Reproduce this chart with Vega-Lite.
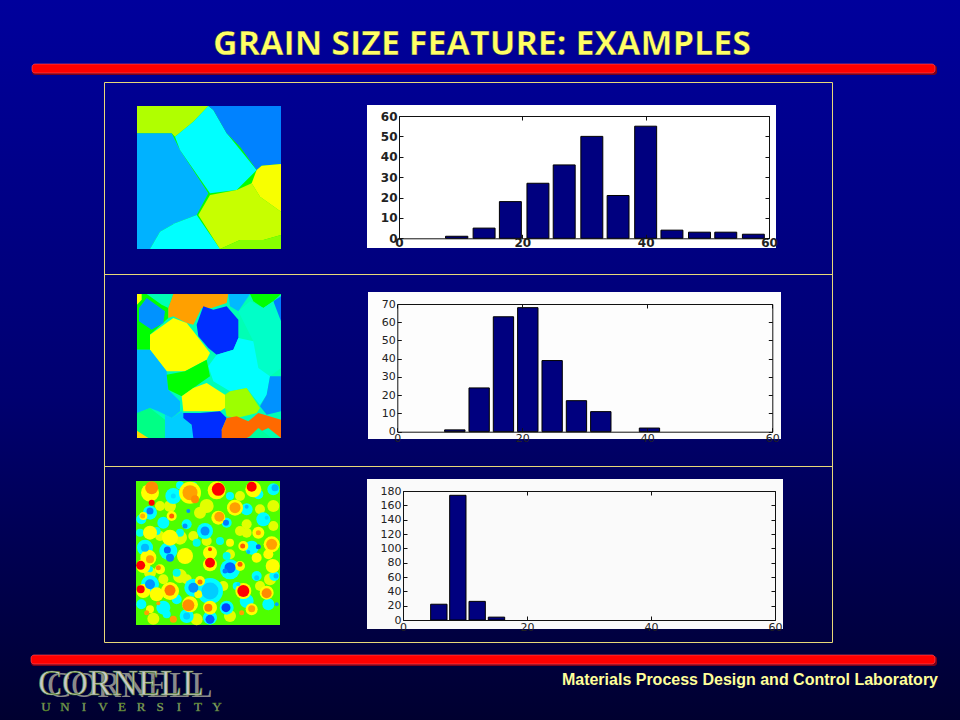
{
"$schema":"https://vega.github.io/schema/vega-lite/v6.json",
"width":960,"height":720,"padding":0,"autosize":{"type":"none"},
"background":"#00005c",
"view":{"stroke":null,"fill":{"gradient":"linear","x1":0,"y1":0,"x2":0,"y2":1,"stops":[{"offset":0,"color":"#00009c"},{"offset":0.55,"color":"#000070"},{"offset":1,"color":"#000030"}]}},
"config":{"axis":{"grid":false,"title":null,"domainColor":"#111111","tickColor":"#111111","labelColor":"#222222","labelFont":"DejaVu Sans","labelFontSize":11,"tickSize":-4,"labelPadding":6,"labelFlush":false,"labelOverlap":false},"text":{"align":"center","baseline":"alphabetic"}},
"resolve":{"scale":{"x":"independent","y":"independent"},"axis":{"x":"independent","y":"independent"}},
"datasets":{
"hist1":[{"start":7.55,"end":11.16,"count":1},{"start":12.02,"end":15.58,"count":5},{"start":16.28,"end":19.84,"count":18},{"start":20.75,"end":24.31,"count":27},{"start":25.01,"end":28.57,"count":36},{"start":29.49,"end":33.05,"count":50},{"start":33.75,"end":37.3,"count":21},{"start":38.22,"end":41.78,"count":55},{"start":42.48,"end":46.04,"count":4},{"start":46.95,"end":50.51,"count":3},{"start":51.21,"end":54.77,"count":3},{"start":55.69,"end":59.24,"count":2}],
"hist2":[{"start":7.57,"end":10.83,"count":1},{"start":11.47,"end":14.72,"count":24},{"start":15.36,"end":18.61,"count":63},{"start":19.25,"end":22.51,"count":68},{"start":23.15,"end":26.4,"count":39},{"start":27.04,"end":30.29,"count":17},{"start":30.93,"end":34.19,"count":11},{"start":38.72,"end":41.97,"count":2}],
"hist3":[{"start":4.46,"end":7.1,"count":22},{"start":7.53,"end":10.16,"count":174},{"start":10.65,"end":13.28,"count":26},{"start":13.76,"end":16.4,"count":4}],
"map1":[
{"g":0,"v":2,"x":[0,432,432,0],"y":[0,0,429,429]},
{"g":1,"v":2.5,"x":[0,214,169,114,104,0],"y":[0,0,47,92,82,82]},
{"g":2,"v":0.56,"x":[0,104,129,214,179,114,69,39,0],"y":[82,82,132,262,327,352,377,429,429]},
{"g":3,"v":1,"x":[114,169,214,229,269,359,299,219,129],"y":[92,47,0,12,82,192,252,262,132]},
{"g":4,"v":0.33,"x":[214,432,432,374,359,309,269,229],"y":[0,0,174,179,192,122,82,12]},
{"g":5,"v":1,"x":[39,69,114,179,249],"y":[429,377,352,327,429]},
{"g":6,"v":2.63,"x":[184,219,299,344,369,432,432,379,309,249],"y":[327,267,252,232,272,317,387,402,402,429]},
{"g":7,"v":2.95,"x":[359,374,432,432,369,344],"y":[192,179,174,317,272,232]},
{"g":8,"v":2.3,"x":[249,309,379,432,432],"y":[429,402,402,387,429]}],
"map2":[
{"g":0,"v":1.5,"x":[21,453,453,21],"y":[18,18,450,450]},
{"g":1,"v":2,"x":[21,130,115,115,60,60,21],"y":[18,18,60,90,140,185,185]},
{"g":2,"v":1.5,"x":[50,130,115,95],"y":[18,18,60,50]},
{"g":3,"v":3,"x":[21,35,35,21],"y":[18,18,35,50]},
{"g":4,"v":0.4,"x":[27,50,105,100,65,27],"y":[60,30,70,105,125,100]},
{"g":5,"v":3.5,"x":[130,295,290,245,215,190,170,130,115,115],"y":[18,18,45,60,60,110,105,85,90,60]},
{"g":6,"v":0.6,"x":[295,360,325,300],"y":[18,18,70,55]},
{"g":7,"v":2,"x":[360,453,430,400,370],"y":[18,18,40,60,40]},
{"g":8,"v":0.3,"x":[430,453,453,440],"y":[40,25,100,90]},
{"g":9,"v":1.4,"x":[325,360,400,430,453,453,420,380,370],"y":[70,40,60,40,100,240,265,240,160]},
{"g":10,"v":0.05,"x":[200,220,250,290,325,325,310,260,235,205],"y":[110,55,65,55,95,150,185,200,180,145]},
{"g":11,"v":3,"x":[60,130,170,190,240,230,165,110,60],"y":[140,90,105,130,195,215,250,250,185]},
{"g":12,"v":1,"x":[235,260,310,325,370,385,420,410,390,350,300,250],"y":[235,200,185,150,160,240,265,320,350,300,310,280]},
{"g":13,"v":0.6,"x":[21,60,110,115,150,150,125,85,60,25,21],"y":[185,185,250,305,340,370,390,370,360,375,375]},
{"g":14,"v":2,"x":[110,165,230,240,190,155,115],"y":[260,250,215,265,300,325,305]},
{"g":15,"v":3,"x":[155,190,230,285,285,270,210,160],"y":[325,300,285,320,360,370,370,370]},
{"g":16,"v":2.4,"x":[285,300,350,390,380,320,290,285],"y":[320,310,300,360,375,390,385,360]},
{"g":17,"v":0.4,"x":[420,453,453,410,390,410],"y":[265,265,370,380,355,320]},
{"g":18,"v":1.7,"x":[21,60,105,105,21],"y":[375,360,395,450,450]},
{"g":19,"v":3.2,"x":[21,55,21],"y":[428,450,450]},
{"g":20,"v":0.7,"x":[105,125,155,190,190,105],"y":[380,390,370,420,450,450]},
{"g":21,"v":0.05,"x":[160,210,270,290,275,280,190,185,160],"y":[375,375,370,390,425,450,450,410,390]},
{"g":22,"v":3.75,"x":[290,320,355,385,453,453,415,350,275,275],"y":[390,385,400,375,395,450,420,450,450,425]},
{"g":23,"v":1.6,"x":[355,385,425],"y":[450,420,450]}],
"map3base":[{"g":0,"v":2.1,"x":[18,450,450,18],"y":[15,15,447,447]}],
"map3":[
{"x":90,"y":180,"s":100,"v":2.8},{"x":150,"y":185,"s":196,"v":2.8},{"x":190,"y":180,"s":100,"v":2.8},{"x":230,"y":195,"s":100,"v":2.8},{"x":330,"y":165,"s":100,"v":2.8},{"x":350,"y":170,"s":100,"v":2.8},{"x":300,"y":235,"s":100,"v":2.8},{"x":60,"y":290,"s":144,"v":2.8},{"x":100,"y":310,"s":100,"v":2.8},{"x":150,"y":300,"s":196,"v":2.8},{"x":170,"y":310,"s":100,"v":2.8},{"x":280,"y":330,"s":100,"v":2.8},{"x":420,"y":310,"s":144,"v":2.8},{"x":390,"y":330,"s":100,"v":2.8},{"x":300,"y":420,"s":144,"v":2.8},{"x":200,"y":430,"s":144,"v":2.8},{"x":70,"y":428,"s":144,"v":2.8},{"x":330,"y":60,"s":100,"v":2.8},{"x":230,"y":90,"s":196,"v":2.8},{"x":210,"y":110,"s":144,"v":2.8},{"x":120,"y":90,"s":144,"v":2.8},{"x":90,"y":90,"s":100,"v":2.8},{"x":390,"y":100,"s":100,"v":2.8},{"x":430,"y":90,"s":144,"v":2.8},{"x":350,"y":145,"s":100,"v":2.8},{"x":430,"y":150,"s":100,"v":2.8},
{"x":200,"y":200,"s":64,"v":1.2},{"x":270,"y":195,"s":64,"v":1.2},{"x":290,"y":240,"s":64,"v":1.2},{"x":80,"y":165,"s":64,"v":1.2},{"x":150,"y":170,"s":64,"v":1.2},{"x":30,"y":170,"s":64,"v":1.2},{"x":140,"y":290,"s":64,"v":1.2},{"x":60,"y":280,"s":36,"v":1.2},
{"x":130,"y":60,"s":256,"v":1},{"x":60,"y":110,"s":196,"v":1},{"x":34,"y":130,"s":100,"v":1},{"x":100,"y":140,"s":144,"v":1},{"x":170,"y":145,"s":100,"v":1},{"x":225,"y":165,"s":256,"v":1},{"x":290,"y":140,"s":100,"v":1},{"x":350,"y":100,"s":144,"v":1},{"x":400,"y":130,"s":196,"v":1},{"x":430,"y":40,"s":144,"v":1},{"x":385,"y":55,"s":100,"v":1},{"x":45,"y":215,"s":256,"v":1},{"x":115,"y":225,"s":324,"v":1},{"x":60,"y":325,"s":324,"v":1},{"x":34,"y":385,"s":100,"v":1},{"x":100,"y":395,"s":196,"v":1},{"x":140,"y":370,"s":100,"v":1},{"x":190,"y":335,"s":324,"v":1},{"x":240,"y":345,"s":676,"v":1},{"x":300,"y":280,"s":400,"v":1},{"x":290,"y":395,"s":196,"v":1},{"x":365,"y":215,"s":196,"v":1},{"x":380,"y":300,"s":100,"v":1},{"x":350,"y":375,"s":196,"v":1},{"x":415,"y":385,"s":144,"v":1},{"x":240,"y":425,"s":196,"v":1},{"x":170,"y":420,"s":196,"v":1},{"x":110,"y":415,"s":64,"v":1},{"x":190,"y":30,"s":64,"v":1},{"x":150,"y":28,"s":64,"v":1},{"x":300,"y":60,"s":64,"v":1},{"x":433,"y":300,"s":100,"v":1},{"x":320,"y":330,"s":64,"v":1},
{"x":180,"y":50,"s":484,"v":3},{"x":60,"y":50,"s":324,"v":3},{"x":260,"y":43,"s":324,"v":3},{"x":370,"y":40,"s":256,"v":3},{"x":315,"y":95,"s":256,"v":3},{"x":125,"y":120,"s":100,"v":3},{"x":265,"y":125,"s":196,"v":3},{"x":40,"y":120,"s":64,"v":3},{"x":385,"y":170,"s":144,"v":3},{"x":60,"y":170,"s":196,"v":3},{"x":120,"y":185,"s":256,"v":3},{"x":425,"y":205,"s":256,"v":3},{"x":340,"y":210,"s":100,"v":3},{"x":240,"y":230,"s":196,"v":3},{"x":165,"y":240,"s":256,"v":3},{"x":55,"y":245,"s":256,"v":3},{"x":40,"y":270,"s":196,"v":3},{"x":240,"y":265,"s":196,"v":3},{"x":330,"y":270,"s":100,"v":3},{"x":210,"y":315,"s":100,"v":3},{"x":120,"y":345,"s":324,"v":3},{"x":40,"y":345,"s":196,"v":3},{"x":80,"y":355,"s":196,"v":3},{"x":340,"y":345,"s":256,"v":3},{"x":410,"y":350,"s":196,"v":3},{"x":180,"y":385,"s":256,"v":3},{"x":240,"y":395,"s":196,"v":3},{"x":365,"y":400,"s":144,"v":3},{"x":60,"y":400,"s":64,"v":3},{"x":428,"y":270,"s":196,"v":3},{"x":380,"y":245,"s":100,"v":3},{"x":205,"y":355,"s":64,"v":3},{"x":90,"y":280,"s":100,"v":3},{"x":415,"y":235,"s":100,"v":3},{"x":300,"y":200,"s":64,"v":3},
{"x":265,"y":40,"s":169,"v":4},{"x":180,"y":50,"s":225,"v":3.5},{"x":195,"y":70,"s":64,"v":3.6},{"x":65,"y":35,"s":169,"v":3.6},{"x":365,"y":32,"s":100,"v":4},{"x":315,"y":95,"s":121,"v":3.5},{"x":65,"y":80,"s":36,"v":4},{"x":125,"y":120,"s":25,"v":3.8},{"x":268,"y":122,"s":100,"v":3.5},{"x":38,"y":120,"s":25,"v":3.4},{"x":240,"y":260,"s":100,"v":4},{"x":32,"y":268,"s":81,"v":4},{"x":60,"y":250,"s":64,"v":3.5},{"x":85,"y":275,"s":25,"v":3.6},{"x":425,"y":205,"s":121,"v":3.5},{"x":338,"y":210,"s":25,"v":3.8},{"x":240,"y":220,"s":16,"v":3.9},{"x":340,"y":345,"s":144,"v":4},{"x":120,"y":343,"s":121,"v":3.7},{"x":32,"y":340,"s":64,"v":4},{"x":410,"y":352,"s":100,"v":3.6},{"x":175,"y":388,"s":144,"v":3.6},{"x":235,"y":395,"s":64,"v":3.7},{"x":365,"y":398,"s":49,"v":3.5},{"x":130,"y":430,"s":49,"v":3.5},{"x":210,"y":318,"s":25,"v":3.7},{"x":385,"y":170,"s":25,"v":3.5},{"x":330,"y":265,"s":25,"v":3.8},{"x":50,"y":410,"s":25,"v":3.5},{"x":335,"y":410,"s":25,"v":3.5},{"x":85,"y":382,"s":16,"v":3.5},
{"x":60,"y":105,"s":49,"v":0.3},{"x":112,"y":222,"s":49,"v":0.2},{"x":120,"y":245,"s":64,"v":0.3},{"x":225,"y":165,"s":81,"v":0.4},{"x":288,"y":140,"s":36,"v":0.3},{"x":165,"y":150,"s":25,"v":0.4},{"x":60,"y":325,"s":100,"v":0.4},{"x":300,"y":275,"s":121,"v":0.2},{"x":285,"y":285,"s":25,"v":0.3},{"x":190,"y":335,"s":100,"v":0.4},{"x":240,"y":345,"s":289,"v":0.7},{"x":288,"y":395,"s":81,"v":0.1},{"x":240,"y":430,"s":81,"v":0.2},{"x":170,"y":420,"s":49,"v":0.7},{"x":385,"y":212,"s":25,"v":0.2},{"x":355,"y":228,"s":16,"v":0.6},{"x":380,"y":305,"s":25,"v":0.7},{"x":440,"y":385,"s":16,"v":0.5},{"x":350,"y":92,"s":16,"v":0.6},{"x":410,"y":125,"s":16,"v":0.8},{"x":435,"y":35,"s":49,"v":0.6},{"x":175,"y":105,"s":16,"v":0.4},{"x":438,"y":300,"s":25,"v":0.6},{"x":325,"y":325,"s":16,"v":0.8},{"x":130,"y":60,"s":25,"v":0.8},{"x":45,"y":215,"s":64,"v":0.6}],
"univ":[{"n":1,"t":"U"},{"n":2,"t":"N"},{"n":3,"t":"I"},{"n":4,"t":"V"},{"n":5,"t":"E"},{"n":6,"t":"R"},{"n":7,"t":"S"},{"n":8,"t":"I"},{"n":9,"t":"T"},{"n":10,"t":"Y"}]
},
"layer":[
{"data":{"values":[{"part":"frame"}]},"mark":{"type":"rect","fill":null,"stroke":"#e8d878","strokeWidth":1},"encoding":{"x":{"value":104.5},"x2":{"value":832.5},"y":{"value":82.5},"y2":{"value":642.5}}},
{"data":{"values":[{"part":"divider"}]},"mark":{"type":"rule","stroke":"#e8d878","strokeWidth":1},"encoding":{"x":{"value":104.5},"x2":{"value":832.5},"y":{"value":274.5}}},
{"data":{"values":[{"part":"divider"}]},"mark":{"type":"rule","stroke":"#e8d878","strokeWidth":1},"encoding":{"x":{"value":104.5},"x2":{"value":832.5},"y":{"value":466.5}}},
{"data":{"values":[{"part":"shadow"}]},"mark":{"type":"rect","fill":"#7a0018","cornerRadius":3},"encoding":{"x":{"value":32},"x2":{"value":937},"y":{"value":65},"y2":{"value":75}}},
{"data":{"values":[{"part":"bar"}]},"mark":{"type":"rect","fill":"#ff0000","stroke":"#ff5060","strokeWidth":0.6,"cornerRadius":3},"encoding":{"x":{"value":32},"x2":{"value":935},"y":{"value":64},"y2":{"value":73}}},
{"data":{"values":[{"part":"shadow"}]},"mark":{"type":"rect","fill":"#7a0018","cornerRadius":3},"encoding":{"x":{"value":31},"x2":{"value":937},"y":{"value":656},"y2":{"value":666}}},
{"data":{"values":[{"part":"bar"}]},"mark":{"type":"rect","fill":"#ff0000","stroke":"#ff5060","strokeWidth":0.6,"cornerRadius":3},"encoding":{"x":{"value":31},"x2":{"value":935},"y":{"value":655},"y2":{"value":664}}},
{"data":{"values":[{"label":"GRAIN SIZE FEATURE: EXAMPLES"}]},"mark":{"type":"text","font":"Open Sans","fontWeight":"bold","fontSize":34,"fill":"#ffff66","stroke":"#000050","strokeWidth":0.4,"align":"center"},"encoding":{"text":{"field":"label"},"x":{"value":482},"y":{"value":55}}},
{"data":{"values":[{"label":"Materials Process Design and Control Laboratory"}]},"mark":{"type":"text","font":"Liberation Sans","fontWeight":"bold","fontSize":16,"fill":"#ffff99","align":"right"},"encoding":{"text":{"field":"label"},"x":{"value":938},"y":{"value":685}}},
{"data":{"values":[{"label":"CORNELL"}]},"mark":{"type":"text","font":"Liberation Serif","fontSize":36,"fill":"#8a8a8a","align":"left"},"encoding":{"text":{"field":"label"},"x":{"value":47},"y":{"value":697}}},
{"data":{"values":[{"label":"CORNELL"}]},"mark":{"type":"text","font":"Liberation Serif","fontSize":36,"fill":"#c8c8c8","stroke":"#4f7f1f","strokeWidth":0.6,"align":"left"},"encoding":{"text":{"field":"label"},"x":{"value":38},"y":{"value":695}}},
{"data":{"name":"univ"},"mark":{"type":"text","font":"Liberation Serif","fontSize":13,"fill":"#aaaaaa","stroke":"#4f7f1f","strokeWidth":0.5},"encoding":{"text":{"field":"t"},"x":{"field":"n","type":"ordinal","axis":null,"scale":{"type":"point","padding":0,"range":[46,217]}},"y":{"value":711}}},

{"data":{"values":[{"part":"panel"}]},"mark":{"type":"rect","fill":"#ffffff"},"encoding":{"x":{"value":367},"x2":{"value":776},"y":{"value":105},"y2":{"value":248}}},
{"data":{"values":[{"part":"panel"}]},"mark":{"type":"rect","fill":"#fdfdfd"},"encoding":{"x":{"value":368},"x2":{"value":781},"y":{"value":292},"y2":{"value":439}}},
{"data":{"values":[{"part":"panel"}]},"mark":{"type":"rect","fill":"#fafafa"},"encoding":{"x":{"value":367},"x2":{"value":783},"y":{"value":479},"y2":{"value":629}}},

{"data":{"name":"map1"},"transform":[{"flatten":["x","y"]}],"mark":{"type":"line","filled":true,"strokeWidth":0},"encoding":{"x":{"field":"x","type":"quantitative","axis":null,"scale":{"domain":[0,432],"range":[137,281],"nice":false,"zero":false}},"y":{"field":"y","type":"quantitative","axis":null,"scale":{"domain":[0,429],"range":[106,249],"nice":false,"zero":false}},"detail":{"field":"g"},"order":{"value":null},"color":{"field":"v","type":"quantitative","legend":null,"scale":{"domain":[0,1,2,3,4],"range":["#0000ff","#00ffff","#00ff00","#ffff00","#ff0000"]}}}},
{"data":{"name":"map2"},"transform":[{"flatten":["x","y"]}],"mark":{"type":"line","filled":true,"strokeWidth":0},"encoding":{"x":{"field":"x","type":"quantitative","axis":null,"scale":{"domain":[21,453],"range":[137,281],"nice":false,"zero":false}},"y":{"field":"y","type":"quantitative","axis":null,"scale":{"domain":[18,450],"range":[294,438],"nice":false,"zero":false}},"detail":{"field":"g"},"order":{"value":null},"color":{"field":"v","type":"quantitative","legend":null,"scale":{"domain":[0,1,2,3,4],"range":["#0000ff","#00ffff","#00ff00","#ffff00","#ff0000"]}}}},
{"data":{"name":"map3base"},"transform":[{"flatten":["x","y"]}],"mark":{"type":"line","filled":true,"strokeWidth":0},"encoding":{"x":{"field":"x","type":"quantitative","axis":null,"scale":{"domain":[18,450],"range":[136,280],"nice":false,"zero":false}},"y":{"field":"y","type":"quantitative","axis":null,"scale":{"domain":[15,447],"range":[481,625],"nice":false,"zero":false}},"detail":{"field":"g"},"order":{"value":null},"color":{"field":"v","type":"quantitative","legend":null,"scale":{"domain":[0,1,2,3,4],"range":["#0000ff","#00ffff","#00ff00","#ffff00","#ff0000"]}}}},
{"data":{"name":"map3"},"mark":{"type":"point","filled":true,"opacity":1,"strokeWidth":0,"shape":"circle"},"encoding":{"x":{"field":"x","type":"quantitative","axis":null,"scale":{"domain":[18,450],"range":[136,280],"nice":false,"zero":false}},"y":{"field":"y","type":"quantitative","axis":null,"scale":{"domain":[15,447],"range":[481,625],"nice":false,"zero":false}},"size":{"field":"s","type":"quantitative","scale":null},"color":{"field":"v","type":"quantitative","legend":null,"scale":{"domain":[0,1,2,3,4],"range":["#0000ff","#00ffff","#00ff00","#ffff00","#ff0000"]}}}},

{"data":{"name":"hist1"},"mark":{"type":"rect","opacity":0},"encoding":{"x":{"field":"start","type":"quantitative","scale":{"domain":[0,60],"range":[399,769],"nice":false,"zero":false},"axis":{"zindex":1,"orient":"top","offset":-116,"values":[0,20,40,60],"labels":false}},"x2":{"field":"end"},"y":{"field":"count","type":"quantitative","scale":{"domain":[0,60],"range":[238.3,116],"nice":false,"zero":false},"axis":{"zindex":1,"orient":"right","offset":-191,"values":[0,10,20,30,40,50,60],"labels":false}},"y2":{"datum":0}}},
{"data":{"name":"hist1"},"mark":{"type":"rect","fill":"#00007f","stroke":"#000000","strokeWidth":1},"encoding":{"x":{"field":"start","type":"quantitative","scale":{"domain":[0,60],"range":[399,769],"nice":false,"zero":false},"axis":{"zindex":1,"orient":"bottom","offset":-481.7,"values":[0,20,40,60],"labelFontWeight":"bold","labelFontSize":12,"labelPadding":3}},"x2":{"field":"end"},"y":{"field":"count","type":"quantitative","scale":{"domain":[0,60],"range":[238.3,116],"nice":false,"zero":false},"axis":{"zindex":1,"orient":"left","offset":-399,"values":[0,10,20,30,40,50,60],"labelFontWeight":"bold","labelFontSize":12}},"y2":{"datum":0}}},

{"data":{"name":"hist2"},"mark":{"type":"rect","opacity":0},"encoding":{"x":{"field":"start","type":"quantitative","scale":{"domain":[0,60],"range":[397.3,772.3],"nice":false,"zero":false},"axis":{"zindex":1,"orient":"top","offset":-304,"values":[0,20,40,60],"labels":false}},"x2":{"field":"end"},"y":{"field":"count","type":"quantitative","scale":{"domain":[0,70],"range":[431.7,304],"nice":false,"zero":false},"axis":{"zindex":1,"orient":"right","offset":-187.7,"values":[0,10,20,30,40,50,60,70],"labels":false}},"y2":{"datum":0}}},
{"data":{"name":"hist2"},"mark":{"type":"rect","fill":"#00007f","stroke":"#000000","strokeWidth":1},"encoding":{"x":{"field":"start","type":"quantitative","scale":{"domain":[0,60],"range":[397.3,772.3],"nice":false,"zero":false},"axis":{"zindex":1,"orient":"bottom","offset":-288.3,"values":[0,20,40,60],"labelPadding":5}},"x2":{"field":"end"},"y":{"field":"count","type":"quantitative","scale":{"domain":[0,70],"range":[431.7,304],"nice":false,"zero":false},"axis":{"zindex":1,"orient":"left","offset":-397.3,"values":[0,10,20,30,40,50,60,70]}},"y2":{"datum":0}}},

{"data":{"name":"hist3"},"mark":{"type":"rect","opacity":0},"encoding":{"x":{"field":"start","type":"quantitative","scale":{"domain":[0,60],"range":[403,775],"nice":false,"zero":false},"axis":{"zindex":1,"orient":"top","offset":-491,"values":[0,20,40,60],"labels":false}},"x2":{"field":"end"},"y":{"field":"count","type":"quantitative","scale":{"domain":[0,180],"range":[620,491],"nice":false,"zero":false},"axis":{"zindex":1,"orient":"right","offset":-185,"values":[0,20,40,60,80,100,120,140,160,180],"labels":false}},"y2":{"datum":0}}},
{"data":{"name":"hist3"},"mark":{"type":"rect","fill":"#00007f","stroke":"#000000","strokeWidth":1},"encoding":{"x":{"field":"start","type":"quantitative","scale":{"domain":[0,60],"range":[403,775],"nice":false,"zero":false},"axis":{"zindex":1,"orient":"bottom","offset":-100,"values":[0,20,40,60],"labelPadding":5}},"x2":{"field":"end"},"y":{"field":"count","type":"quantitative","scale":{"domain":[0,180],"range":[620,491],"nice":false,"zero":false},"axis":{"zindex":1,"orient":"left","offset":-403,"values":[0,20,40,60,80,100,120,140,160,180]}},"y2":{"datum":0}}}
]
}
